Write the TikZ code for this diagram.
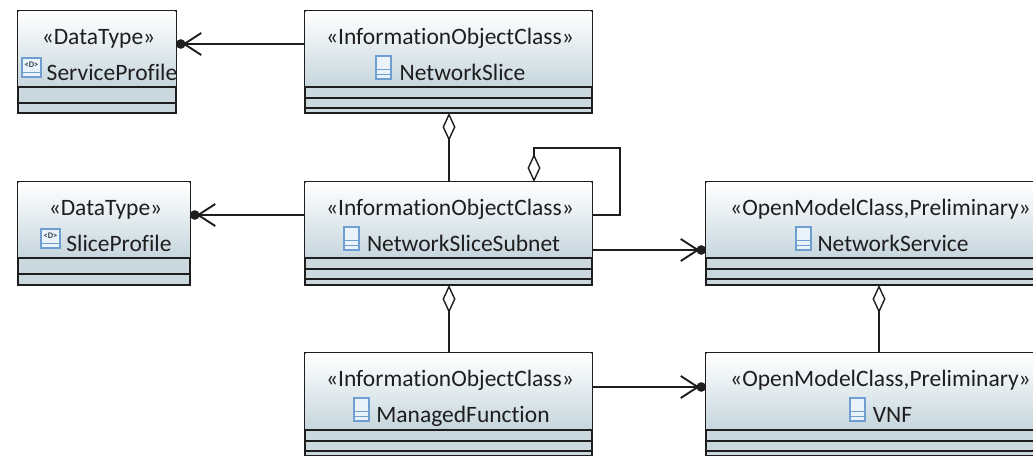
\documentclass[tikz,border=0pt]{standalone}
\usepackage{fontspec}
\setmainfont[Ligatures=NoCommon]{Carlito}
\usetikzlibrary{arrows.meta,calc}
\definecolor{ink}{HTML}{1E1E1E}
\definecolor{headb}{HTML}{C6D6DD}
\definecolor{comp}{HTML}{CBD8DD}
\definecolor{iconb}{HTML}{6E9FD0}
\definecolor{iconf}{HTML}{EAF2FA}
\tikzset{
  classbody/.style={draw=ink,line width=1.3pt,rectangle,inner sep=0pt,outer sep=0pt,fill=comp},
  stereo/.style={text=ink,font=\fontsize{23.5}{26}\selectfont,inner sep=0pt,anchor=base},
  link/.style={draw=ink,line width=1.9pt},
  refarrow/.style={link,-{Straight Barb[length=17pt,width=22pt,line width=1.9pt,sep=-3pt]Circle[length=9.5pt,width=9.5pt]}},
  aggr/.style={link,{Diamond[open,length=28pt,width=13pt,line width=1.4pt]}-},
  iconbox/.style={draw=iconb,fill=iconf,line width=1.1pt}
}
% name, left, top, width, height, stereotype, title, title cx, separators
\newcommand{\classbox}[9]{%
  \node[classbody,minimum width=#4pt,minimum height=#5pt] (#1) at (#2+#4/2,-#3-#5/2) {};
  \shade[top color=white,bottom color=headb] ([xshift=.7pt,yshift=-.7pt]#1.north west) rectangle ([xshift=-.7pt,yshift=-76pt]#1.north east);
  \node[stereo] (#1-s) at ($(#1.north)+(1.5,-33)$) {«#6»};
  \node[stereo] (#1-t) at (#8,-#3-69) {#7};
  \foreach \ly in {#9} {\draw[draw=ink,line width=1.2pt] ([yshift=-\ly pt]#1.north west) -- ([yshift=-\ly pt]#1.north east);}
}
\newcommand{\classicon}[2]{% left, top
  \draw[iconbox] (#1,-#2) rectangle (#1+15,-#2-23);
  \draw[draw=iconb,line width=1pt] (#1,-#2-13) -- (#1+15,-#2-13) (#1,-#2-18) -- (#1+15,-#2-18);
}
\newcommand{\dataicon}[3]{% name, left, top
  \draw[iconbox] (#2,-#3) rectangle (#2+19,-#3-19);
  \draw[draw=iconb,line width=1pt] (#2,-#3-14) -- (#2+19,-#3-14);
  \node[inner sep=0pt,text=ink!70!iconb,font=\fontsize{8.5}{9}\selectfont\bfseries] (#1) at (#2+9.5,-#3-7) {<D>};
}
\begin{document}
\begin{tikzpicture}[x=1pt,y=1pt]
\useasboundingbox[clip] (0,0) rectangle (1033,-455);
\fill[white] (0,0) rectangle (1033,-455);
\classbox{sp}{18}{11}{158}{102}{DataType}{ServiceProfile}{112}{76,92}
\classbox{ns}{305}{11}{287}{102}{InformationObjectClass}{NetworkSlice}{462.5}{76,87,97}
\classbox{slp}{18}{182}{172}{103}{DataType}{SliceProfile}{119}{76,92}
\classbox{nss}{305}{182}{287}{103}{InformationObjectClass}{NetworkSliceSubnet}{463.5}{76,87,97}
\classbox{nsv}{706}{182}{346}{103}{OpenModelClass,Preliminary}{NetworkService}{893}{76,87,97}
\classbox{mf}{305}{353}{287}{103}{InformationObjectClass}{ManagedFunction}{463}{77,88,98}
\classbox{vnf}{706}{353}{346}{103}{OpenModelClass,Preliminary}{VNF}{892.5}{77,88,98}
\dataicon{spi}{22}{58}
\dataicon{slpi}{41}{229}
\classicon{376}{56}
\classicon{344}{227}
\classicon{354}{398}
\classicon{796}{227}
\classicon{850}{398}
\coordinate (loop) at (620,-148);
\draw[refarrow] ([yshift=18pt]ns.west) -- ([yshift=18pt]sp.east);
\draw[refarrow] ([yshift=18.5pt]nss.west) -- ([yshift=18.5pt]slp.east);
\draw[refarrow] ([yshift=-16.5pt]nss.east) -- ([yshift=-16.5pt]nsv.west);
\draw[refarrow] ([yshift=17.5pt]mf.east) -- ([yshift=17.5pt]vnf.west);
\draw[aggr] ([xshift=.5pt]ns.south) -- ([xshift=.5pt]nss.north);
\draw[aggr] ([xshift=.5pt]nss.south) -- ([xshift=.5pt]mf.north);
\draw[aggr] (nsv.south) -- (vnf.north);
\draw[aggr] ([xshift=85.5pt]nss.north) |- (loop) |- ([yshift=18.5pt]nss.east);
\end{tikzpicture}
\end{document}
